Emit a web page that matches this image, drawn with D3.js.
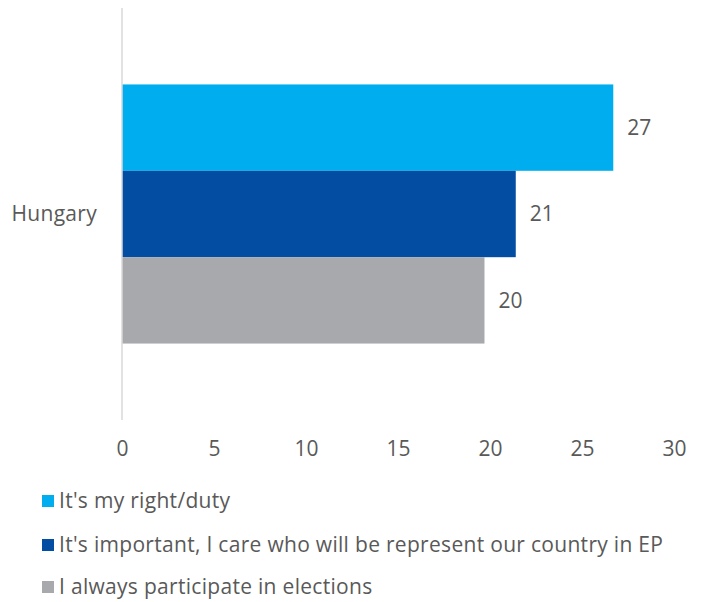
<!DOCTYPE html>
<html>
<head>
<meta charset="utf-8">
<script src="https://cdn.jsdelivr.net/npm/d3@7"></script>
<style>
  html, body { margin: 0; padding: 0; background: #fff; }
  svg { display: block; font-family: "Open Sans", Lato, sans-serif; }
</style>
</head>
<body>
<svg id="chart" width="706" height="602"></svg>
<script>
// Survey: reasons for voting in EP elections (%)
const categories = ["Hungary"];
const seriesNames = [
  "It's my right/duty",
  "It's important, I care who will be represent our country in EP",
  "I always participate in elections"
];
const seriesValues = [26.7, 21.4, 19.7];
const seriesColors = ["#00AEEF", "#034EA2", "#A7A9AC"];
const xTicks = [0, 5, 10, 15, 20, 25, 30];

(function () {
const svg = d3.select("#chart");
const plotLeft = 122, plotRight = 674, plotTop = 8, plotBottom = 420;
const font = "'Open Sans', Lato, sans-serif";
const fontSize = 21;
const textColor = "#595959";

const x = d3.scaleLinear().domain([0, 30]).range([plotLeft, plotRight]);
const y = d3.scaleBand().domain(categories).range([plotTop, plotBottom]).paddingInner(0).paddingOuter(0.295);
const ySeries = d3.scaleBand().domain(seriesNames).range([0, y.bandwidth()]);

// x axis labels only (no line / ticks)
const xAxis = d3.axisBottom(x).tickValues(xTicks).tickSize(0).tickPadding(0).tickFormat(d3.format("d"));
const gx = svg.append("g").attr("transform", `translate(0,${plotBottom + 36})`).call(xAxis);
gx.select(".domain").remove();
gx.selectAll("text")
  .attr("fill", textColor)
  .attr("font-size", fontSize)
  .attr("font-family", font)
  .attr("dy", "0");

// category label
const yAxis = d3.axisLeft(y).tickSize(0).tickPadding(25);
const gy = svg.append("g").attr("transform", `translate(${plotLeft},0)`).call(yAxis);
gy.select(".domain").remove();
gy.selectAll("text")
  .attr("fill", textColor)
  .attr("font-size", fontSize)
  .attr("font-family", font)
  .attr("letter-spacing", 0.3);

// bars
const g = svg.append("g");
categories.forEach(cat => {
  g.selectAll(null)
    .data(seriesNames.map((s, i) => ({ s, v: seriesValues[i], c: seriesColors[i] })))
    .join("rect")
    .attr("x", x(0))
    .attr("y", d => y(cat) + ySeries(d.s))
    .attr("width", d => x(d.v) - x(0))
    .attr("height", ySeries.bandwidth())
    .attr("fill", d => d.c);

  g.selectAll(null)
    .data(seriesNames.map((s, i) => ({ s, v: seriesValues[i] })))
    .join("text")
    .attr("x", d => x(d.v) + 14)
    .attr("y", d => y(cat) + ySeries(d.s) + ySeries.bandwidth() / 2)
    .attr("dy", "0.35em")
    .attr("fill", textColor)
    .attr("font-size", fontSize)
    .text(d => d3.format(".0f")(d.v));
});

// vertical baseline
svg.append("line")
  .attr("x1", x(0)).attr("x2", x(0))
  .attr("y1", plotTop).attr("y2", plotBottom)
  .attr("stroke", "#d9d9d9").attr("stroke-width", 1.5);

// legend
const legend = svg.append("g");
const rows = [501, 545, 587];
seriesNames.forEach((s, i) => {
  legend.append("rect")
    .attr("x", 42).attr("y", rows[i] - 6)
    .attr("width", 12).attr("height", 12)
    .attr("fill", seriesColors[i]);
  legend.append("text")
    .attr("x", 59).attr("y", rows[i])
    .attr("dy", "0.35em")
    .attr("fill", textColor)
    .attr("font-size", fontSize)
    .attr("letter-spacing", 0.3)
    .text(s);
});
})();
</script>
</body>
</html>
